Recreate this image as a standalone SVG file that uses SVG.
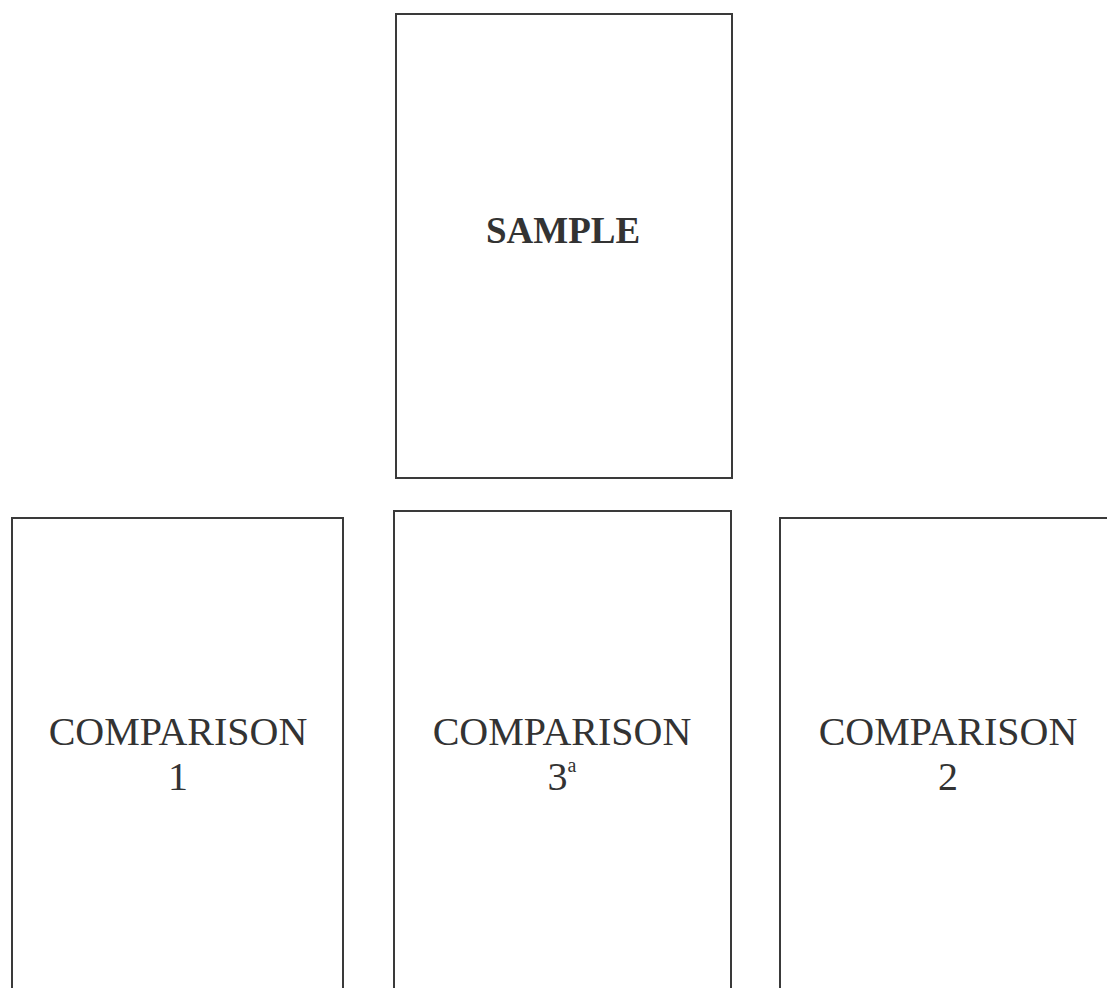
<svg xmlns="http://www.w3.org/2000/svg" width="1107" height="988" viewBox="0 0 1107 988">
<style>
.box{fill:#fff;stroke:#3a3a3a;stroke-width:2}
.t{font-family:"Liberation Serif","Times New Roman",serif;fill:#333;text-anchor:middle}
.b{font-weight:bold;font-size:37px}
.r{font-size:40px}
</style>
<rect width="1107" height="988" fill="#fff"/>
<g id="sample">
<rect class="box" x="396" y="14" width="336" height="464"/>
<text class="t b" x="563" y="243">SAMPLE</text>
</g>
<g id="comparison1">
<rect class="box" x="12" y="518" width="331" height="490"/>
<text class="t r" x="178" y="745">COMPARISON</text>
<text class="t r" x="178" y="790">1</text>
</g>
<g id="comparison3">
<rect class="box" x="394" y="511" width="337" height="497"/>
<text class="t r" x="562" y="745">COMPARISON</text>
<text class="t r" x="562" y="790">3<tspan font-size="20px" dy="-18">a</tspan></text>
</g>
<g id="comparison2">
<rect class="box" x="780" y="518" width="340" height="490"/>
<text class="t r" x="948" y="745">COMPARISON</text>
<text class="t r" x="948" y="790">2</text>
</g>
<g id="connectors"/>
</svg>
